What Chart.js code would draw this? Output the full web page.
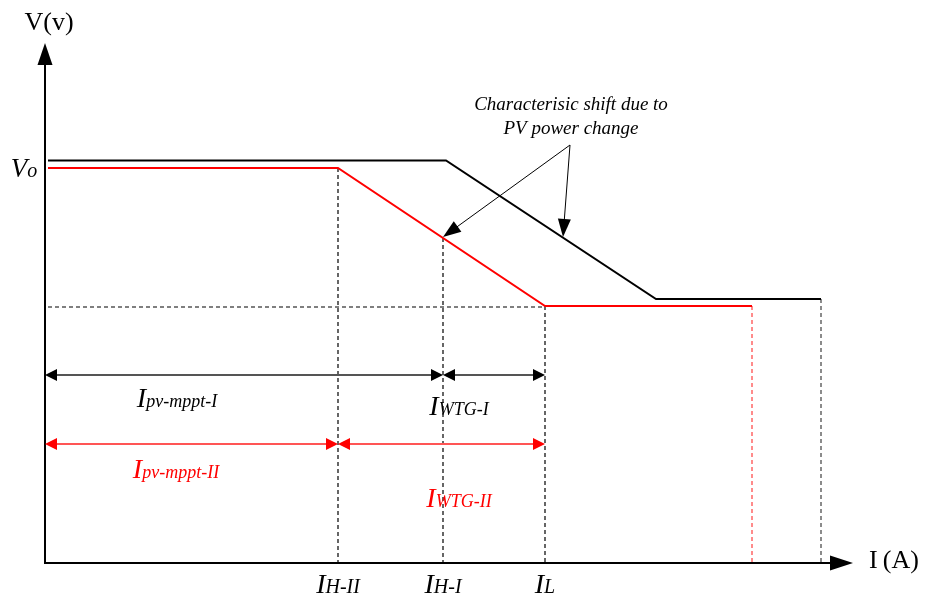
<!DOCTYPE html>
<html>
<head>
<meta charset="utf-8">
<script src="https://cdn.jsdelivr.net/npm/chart.js@4"></script>
<style>
  body { margin: 0; background: #fff; }
  #wrap { width: 925px; height: 599px; position: relative; }
</style>
</head>
<body>
<div id="wrap"><canvas id="vi"></canvas></div>
<script>
// V-I characteristic, arbitrary units
const blackI = [0.3, 40.1, 61.1, 77.6];
const blackV = [40.25, 40.25, 26.4, 26.4];
const redI = [0.3, 29.3, 50, 70.7];
const redV = [39.5, 39.5, 25.7, 25.7];

// current ticks on the I axis
const tickI = [29.3, 39.8, 50];
const tickMain = ['I', 'I', 'I'];
const tickSub = ['H-II', 'H-I', 'L'];
const dropTopV = [39.5, 32.5, 25.7];

// reference dashed level
const refI = [0.3, 50];
const refV = 25.6;

// dimension arrows (spans of current)
const blackSpans = [[0, 39.8], [39.8, 50]];
const blackSpanV = 18.8;
const redSpans = [[0, 29.3], [29.3, 50]];
const redSpanV = 11.9;

// annotation arrows
const noteFrom = [52.5, 41.8];
const noteTo = [[39.8, 32.6], [51.8, 32.6]];

const X_MAX = 80.8, Y_MAX = 52;
const serif = '"Liberation Serif", "DejaVu Serif", serif';

function pts(xs, ys) {
    return xs.map((x, i) => ({ x: x, y: Array.isArray(ys) ? ys[i] : ys }));
}

const datasets = [
    { data: pts(blackI, blackV), borderColor: '#000', borderWidth: 2 },
    { data: pts(redI, redV), borderColor: '#ff0000', borderWidth: 2 },
    { data: pts(refI, refV), borderColor: '#000', borderWidth: 1.2, borderDash: [4, 3] },
    { data: pts([redI[3], redI[3]], [redV[3], 0]), borderColor: '#ff6666', borderWidth: 1.5, borderDash: [4, 3] },
    { data: pts([blackI[3], blackI[3]], [blackV[3], 0]), borderColor: '#666', borderWidth: 1.5, borderDash: [4, 3] }
];
tickI.forEach((x, i) => {
    datasets.push({ data: pts([x, x], [dropTopV[i], 0]), borderColor: '#000', borderWidth: 1.2, borderDash: [4, 3] });
});
datasets.forEach(d => { d.pointRadius = 0; d.tension = 0; d.fill = false; });

function head(ctx, x1, y1, x2, y2, len, half, color) {
    const a = Math.atan2(y2 - y1, x2 - x1);
    ctx.save();
    ctx.fillStyle = color;
    ctx.beginPath();
    ctx.moveTo(x2, y2);
    ctx.lineTo(x2 - len * Math.cos(a) + half * Math.sin(a), y2 - len * Math.sin(a) - half * Math.cos(a));
    ctx.lineTo(x2 - len * Math.cos(a) - half * Math.sin(a), y2 - len * Math.sin(a) + half * Math.cos(a));
    ctx.closePath();
    ctx.fill();
    ctx.restore();
}

function line(ctx, x1, y1, x2, y2, color, w) {
    ctx.save();
    ctx.strokeStyle = color;
    ctx.lineWidth = w;
    ctx.beginPath();
    ctx.moveTo(x1, y1);
    ctx.lineTo(x2, y2);
    ctx.stroke();
    ctx.restore();
}

// big italic letter followed by a smaller italic subscript, centred on cx
function subLabel(ctx, cx, base, main, sub, size, subSize, color) {
    ctx.save();
    ctx.fillStyle = color;
    ctx.textBaseline = 'alphabetic';
    ctx.textAlign = 'left';
    ctx.font = 'italic ' + size + 'px ' + serif;
    const w1 = ctx.measureText(main).width;
    ctx.font = 'italic ' + subSize + 'px ' + serif;
    const w2 = ctx.measureText(sub).width;
    const x0 = cx - (w1 + w2) / 2;
    ctx.font = 'italic ' + size + 'px ' + serif;
    ctx.fillText(main, x0, base);
    ctx.font = 'italic ' + subSize + 'px ' + serif;
    ctx.fillText(sub, x0 + w1, base);
    ctx.restore();
}

const diagram = {
    id: 'diagram',
    afterDatasetsDraw(chart) {
        const ctx = chart.ctx;
        const xs = chart.scales.x, ys = chart.scales.y;
        const px = v => xs.getPixelForValue(v);
        const py = v => ys.getPixelForValue(v);
        const x0 = px(0), y0 = py(0);
        const top = chart.chartArea.top, right = chart.chartArea.right;

        // axes with arrow heads
        line(ctx, x0, y0 + 1, x0, top + 18, '#000', 2);
        head(ctx, x0, y0, x0, top, 22, 7.5, '#000');
        line(ctx, x0 - 1, y0, right - 18, y0, '#000', 2);
        head(ctx, x0, y0, right, y0, 23, 7.5, '#000');

        // dimension arrows
        blackSpans.forEach(s => {
            const a = px(s[0]), b = px(s[1]), y = py(blackSpanV);
            line(ctx, a + 6, y, b - 6, y, '#555', 2.2);
            head(ctx, b, y, a, y, 12, 6, '#000');
            head(ctx, a, y, b, y, 12, 6, '#000');
        });
        redSpans.forEach(s => {
            const a = px(s[0]), b = px(s[1]), y = py(redSpanV);
            line(ctx, a + 6, y, b - 6, y, '#ff5555', 2.2);
            head(ctx, b, y, a, y, 12, 6, '#ff0000');
            head(ctx, a, y, b, y, 12, 6, '#ff0000');
        });

        // annotation arrows
        const fx = px(noteFrom[0]), fy = py(noteFrom[1]);
        noteTo.forEach(t => {
            const tx = px(t[0]), ty = py(t[1]);
            const a = Math.atan2(ty - fy, tx - fx);
            line(ctx, fx, fy, tx - 12 * Math.cos(a), ty - 12 * Math.sin(a), '#000', 1);
            head(ctx, fx, fy, tx, ty, 18, 6.5, '#000');
        });

        // texts
        ctx.save();
        ctx.fillStyle = '#000';
        ctx.font = '26px ' + serif;
        ctx.textAlign = 'center';
        ctx.fillText('V(v)', 49, 30);
        ctx.textAlign = 'left';
        ctx.fillText('I\u2009(A)', 869, 568);
        ctx.font = 'italic 19px ' + serif;
        ctx.textAlign = 'center';
        ctx.fillText('Characterisic shift due to', px(noteFrom[0]) + 1, 110);
        ctx.fillText('PV power change', px(noteFrom[0]) + 1, 134);
        ctx.restore();

        subLabel(ctx, 24, py(redV[0]) + 9, 'V', 'o', 27, 20, '#000');

        tickI.forEach((x, i) => {
            subLabel(ctx, px(x), y0 + 30, tickMain[i], tickSub[i], 28, 20, '#000');
        });

        subLabel(ctx, 177, 407, 'I', 'pv-mppt-I', 28, 18, '#000');
        subLabel(ctx, 459, 415, 'I', 'WTG-I', 28, 18, '#000');
        subLabel(ctx, 176, 478, 'I', 'pv-mppt-II', 28, 18, '#ff0000');
        subLabel(ctx, 459, 507, 'I', 'WTG-II', 28, 18, '#ff0000');
    }
};

new Chart(document.getElementById('vi'), {
    type: 'line',
    data: { datasets: datasets },
    options: {
        responsive: true,
        maintainAspectRatio: false,
        animation: false,
        layout: { padding: { left: 45, right: 72, top: 43, bottom: 36 } },
        plugins: { legend: { display: false }, tooltip: { enabled: false } },
        scales: {
            x: { type: 'linear', min: 0, max: X_MAX, display: false },
            y: { type: 'linear', min: 0, max: Y_MAX, display: false }
        }
    },
    plugins: [diagram]
});
</script>
</body>
</html>
